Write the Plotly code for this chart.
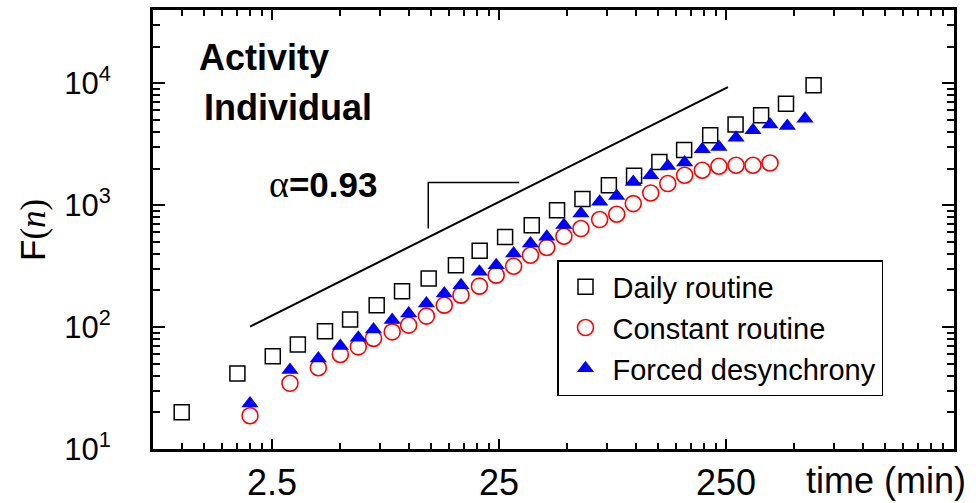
import plotly.graph_objects as go

# ---- data (time in minutes, F(n)) ----
time_daily = [1.0, 1.76, 2.52, 3.25, 4.28, 5.52, 7.23, 9.35, 12.25, 16.15, 20.55, 26.6,
              34.85, 45.05, 58.3, 76.2, 98.4, 127.2, 163.5, 213, 275.5, 357, 459.5, 608]
F_daily = [20.0, 41.7, 57.8, 72.1, 92.7, 115.6, 151, 197, 251, 322, 424, 550,
           686, 910, 1125, 1459, 1750, 2264, 2840, 3749, 4600, 5470, 6820, 9630]

time_constant = [2.0, 3.0, 4.0, 5.0, 6.0, 7.0, 8.46, 10.0, 11.97, 14.35, 17.0, 20.5,
                 24.3, 29.0, 34.4, 40.6, 48.3, 57.4, 69.4, 82.5, 97.6, 116.5, 138.5,
                 164.3, 196.6, 232.8, 276.8, 328.8, 390.7]
F_constant = [18.75, 34.6, 46.4, 59.7, 68.9, 80.8, 91.5, 103.8, 123.1, 151.4, 182.9, 216.8,
              266.9, 316, 389, 450, 557, 644, 763, 844, 1032, 1262, 1506, 1762, 1936,
              2088, 2128, 2128, 2222]

time_forced = [2.0, 3.0, 4.0, 5.0, 6.0, 7.0, 8.46, 10.0, 11.97, 14.35, 17.0, 20.5,
               24.3, 29.0, 34.4, 40.6, 48.3, 57.4, 69.4, 82.5, 97.6, 116.5, 138.5,
               164.3, 196.6, 232.8, 276.8, 328.8, 390.7, 465.6, 557]
F_forced = [23.6, 44.5, 55.4, 70, 81.9, 95.6, 114.4, 129.5, 156.4, 188.8, 221, 284,
            322.6, 401.6, 485, 550.7, 687, 855, 1066, 1193, 1555, 1765, 2103, 2238,
            2882, 3011, 3587, 4127, 4587, 4475, 5135]

fit_time = [2.0, 255]
fit_F = [101, 9300]
bracket_time = [12.2, 12.2, 30.7]
bracket_F = [644, 1535, 1535]

x_tickvals = [2.5, 25, 250]
x_ticktext = ["2.5", "25", "250"]
x_minor = [0.25 * m * 10 ** d for d in range(0, 4) for m in range(2, 10)]
y_tickvals = [10, 100, 1000, 10000]
y_ticktext = ["10<sup>1</sup>", "10<sup>2</sup>", "10<sup>3</sup>", "10<sup>4</sup>"]
y_minor = [m * 10 ** d for d in range(1, 5) for m in range(2, 10)]

# ---- geometry ----
W, H = 979, 503
L, R, T, B = 153, 954, 10, 449
X_RANGE = [-0.1263, 3.4024]
Y_RANGE = [1, 4.602]


def px(x):
    return (x - L) / (R - L)


def py(y):
    return (B - y) / (B - T)


fig = go.Figure()
fig.add_trace(go.Scatter(x=fit_time, y=fit_F, mode="lines",
                         line=dict(color="black", width=2), showlegend=False,
                         hoverinfo="skip"))
fig.add_trace(go.Scatter(x=bracket_time, y=bracket_F, mode="lines",
                         line=dict(color="black", width=1.5), showlegend=False,
                         hoverinfo="skip"))
fig.add_trace(go.Scatter(x=time_daily, y=F_daily, mode="markers", name="Daily routine",
                         marker=dict(symbol="square-open", size=15, color="black",
                                     line=dict(width=1.5, color="black"))))
fig.add_trace(go.Scatter(x=time_constant, y=F_constant, mode="markers", name="Constant routine",
                         marker=dict(symbol="circle-open", size=16, color="red",
                                     line=dict(width=1.6, color="red"))))
fig.add_trace(go.Scatter(x=time_forced, y=F_forced, mode="markers", name="Forced desynchrony",
                         marker=dict(symbol="triangle-up", size=15, color="blue",
                                     line=dict(width=0))))
# invisible trace that anchors the mirrored (top/right) tick axes
fig.add_trace(go.Scatter(x=fit_time, y=fit_F, mode="markers", xaxis="x2", yaxis="y2",
                         marker=dict(opacity=0), showlegend=False, hoverinfo="skip"))

axis_common = dict(showline=True, linecolor="black", linewidth=3, mirror=True,
                   ticks="inside", tickcolor="black", showgrid=False, zeroline=False,
                   automargin=False)

fig.update_layout(
    xaxis=dict(type="log", range=X_RANGE, tickmode="array",
               tickvals=x_tickvals, ticktext=x_ticktext, ticklen=10, tickwidth=2,
               tickfont=dict(family="Liberation Sans, Arial", size=36, color="black"),
               ticklabelstandoff=0,
               minor=dict(tickmode="array", tickvals=x_minor, ticks="inside",
                          ticklen=6, tickwidth=1.5, tickcolor="black", showgrid=False),
               **axis_common),
    yaxis=dict(type="log", range=Y_RANGE, tickmode="array",
               tickvals=y_tickvals, ticktext=y_ticktext, ticklen=12, tickwidth=2,
               tickfont=dict(family="Liberation Sans, Arial", size=31, color="black"),
               ticklabelstandoff=33,
               minor=dict(tickmode="array", tickvals=y_minor, ticks="inside",
                          ticklen=7, tickwidth=1.5, tickcolor="black", showgrid=False),
               **axis_common),
    xaxis2=dict(type="log", range=X_RANGE, overlaying="x", side="top", anchor="y",
                tickmode="array", tickvals=x_tickvals, ticks="inside", ticklen=10,
                tickwidth=2, tickcolor="black", showticklabels=False, showline=False,
                showgrid=False, zeroline=False, automargin=False,
                minor=dict(tickmode="array", tickvals=x_minor, ticks="inside",
                           ticklen=6, tickwidth=1.5, tickcolor="black", showgrid=False)),
    yaxis2=dict(type="log", range=Y_RANGE, overlaying="y", side="right", anchor="x",
                tickmode="array", tickvals=y_tickvals, ticks="inside", ticklen=12,
                tickwidth=2, tickcolor="black", showticklabels=False, showline=False,
                showgrid=False, zeroline=False, automargin=False,
                minor=dict(tickmode="array", tickvals=y_minor, ticks="inside",
                           ticklen=7, tickwidth=1.5, tickcolor="black", showgrid=False)),
)

annots = [
    dict(text="<b>Activity</b>", x=px(197), y=py(57.5), size=36, family="Liberation Sans, Arial"),
    dict(text="<b>Individual</b>", x=px(202), y=py(107), size=36, family="Liberation Sans, Arial"),
    dict(text="<span style=\"font-family:'Liberation Serif';font-size:38px\">\u03b1</span><b>=0.93</b>",
         x=px(267), y=py(184), size=35, family="Liberation Sans, Arial"),
    dict(text="time (min)", x=px(804), y=py(480), size=36, family="Liberation Sans, Arial"),
]
for a in annots:
    fig.add_annotation(text=a["text"], xref="paper", yref="paper", x=a["x"], y=a["y"],
                       xanchor="left", yanchor="middle", showarrow=False,
                       font=dict(family=a["family"], size=a["size"], color="black"))

fig.add_annotation(text="F<span style=\"font-family:'Liberation Serif'\">(<i>n</i>)</span>",
                   xref="paper", yref="paper", x=px(33), y=py(230), xanchor="center",
                   yanchor="middle", textangle=-90, showarrow=False,
                   font=dict(family="Liberation Sans, Arial", size=35, color="black"))

fig.update_layout(
    width=W, height=H,
    margin=dict(l=L, r=W - R, t=T, b=H - B, pad=0, autoexpand=False),
    paper_bgcolor="white", plot_bgcolor="white",
    legend=dict(x=px(557), y=py(260), xanchor="left", yanchor="top",
                bgcolor="white", bordercolor="black", borderwidth=1.5,
                font=dict(family="Liberation Sans, Arial", size=29, color="black"),
                itemwidth=44, tracegroupgap=0),
    showlegend=True,
)

fig.write_html("out.html", config={"displayModeBar": False},
               post_script="document.body.style.margin='0px';document.body.style.padding='0px';")
